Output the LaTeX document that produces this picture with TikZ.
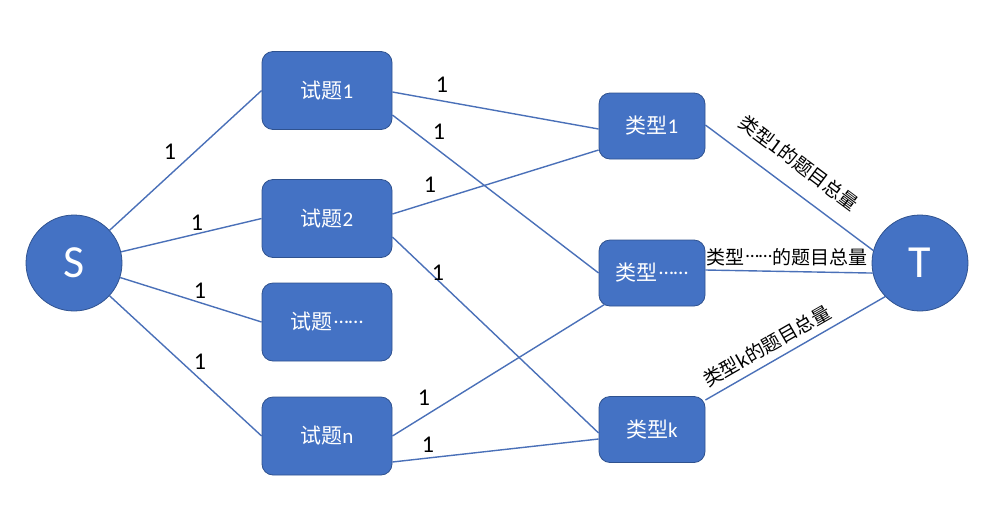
\documentclass[tikz,border=0pt]{standalone}
\usepackage{fontspec}
\setmainfont{Carlito}
\newfontfamily\cjk{Noto Sans CJK SC}
\definecolor{nodeblue}{HTML}{4472C4}
\definecolor{borderblue}{HTML}{2F528F}
\definecolor{lineblue}{HTML}{4A70B8}
\newcommand{\middots}{\raisebox{0.33em}{\kern0.05em……}}
\begin{document}
\begin{tikzpicture}[x=1pt,y=-1pt,
  circ/.style={circle,fill=nodeblue,draw=borderblue,line width=0.8pt,minimum size=96pt,inner sep=0pt,text=white,font=\fontsize{46}{50}\selectfont},
  qbox/.style={rectangle,rounded corners=11pt,fill=nodeblue,draw=borderblue,line width=0.8pt,minimum width=130pt,minimum height=78pt,inner sep=0pt,text=white,font=\fontsize{21}{25}\selectfont},
  tbox/.style={qbox,minimum width=106pt,minimum height=66pt},
  edge/.style={draw=lineblue,line width=1.4pt},
  wlabel/.style={font=\fontsize{24}{28}\selectfont,text=black,inner sep=0pt},
  tlabel/.style={font=\fontsize{19}{23}\selectfont,text=black,inner sep=0pt}]
\useasboundingbox (0,0) rectangle (993,512);
% nodes
\node[circ] (S) at (74,263) {S};
\node[circ] (T) at (920,263) {T};
\node[qbox] (q1) at (327,90.5) {{\cjk 试题}1};
\node[qbox] (q2) at (327,218.5) {{\cjk 试题}2};
\node[qbox] (q3) at (327,322) {{\cjk 试题}\middots};
\node[qbox] (qn) at (327,436) {{\cjk 试题}n};
\node[tbox] (t1) at (652,126) {{\cjk 类型}1};
\node[tbox] (t2) at (652,273) {{\cjk 类型}\middots};
\node[tbox] (tk) at (652,429.5) {{\cjk 类型}k};
% edges S -> questions
\draw[edge] (S) -- (q1.west);
\draw[edge] (S) -- (q2.west);
\draw[edge] (S) -- (q3.west);
\draw[edge] (S) -- (qn.west);
% questions -> types
\draw[edge] ([yshift=-1.5pt]q1.east) -- ([yshift=-3pt]t1.west);
\draw[edge] ([yshift=-24.5pt]q1.east) -- (t2.west);
\draw[edge] ([yshift=4.5pt]q2.east) -- ([yshift=-24pt]t1.west);
\draw[edge] ([yshift=-18.5pt]q2.east) -- ([yshift=-3.5pt]tk.west);
\draw[edge] (qn.east) -- ([xshift=6pt,yshift=2pt]t2.south west);
\draw[edge] ([yshift=-26pt]qn.east) -- ([yshift=-9.5pt]tk.west);
% types -> T
\draw[edge] ([yshift=1pt]t1.east) -- (T.165);
\draw[edge] ([yshift=3pt]t2.east) -- (T.192);
\draw[edge] ([yshift=29.5pt]tk.east) -- (T.224);
% capacity labels
\node[wlabel] (l1) at (170,152) {1};
\node[wlabel] (l2) at (197,223) {1};
\node[wlabel] (l3) at (200,291) {1};
\node[wlabel] (l4) at (200,362) {1};
\node[wlabel] (l5) at (442,85) {1};
\node[wlabel] (l6) at (439,132) {1};
\node[wlabel] (l7) at (430,185) {1};
\node[wlabel] (l8) at (438,273) {1};
\node[wlabel] (l9) at (424,398) {1};
\node[wlabel] (l10) at (428,445) {1};
\node[tlabel,rotate=-36.8] (c1) at (799,163) {\cjk 类型1的题目总量};
\node[tlabel] (c2) at (787,257) {{\cjk 类型}\middots{\cjk 的题目总量}};
\node[tlabel,rotate=29.8] (ck) at (767,346) {\cjk 类型k的题目总量};
\end{tikzpicture}
\end{document}
